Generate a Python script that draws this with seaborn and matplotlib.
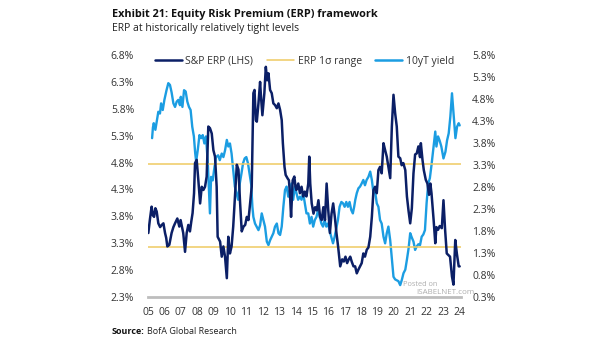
import matplotlib
matplotlib.use("Agg")
import matplotlib.pyplot as plt
import seaborn as sns
import pandas as pd
from matplotlib.ticker import FuncFormatter, FixedLocator
from matplotlib.lines import Line2D

# S&P 500 equity risk premium (left axis, %)
erp_year = [2005.02, 2005.12, 2005.22, 2005.30, 2005.37, 2005.45, 2005.53, 2005.63, 2005.74, 2005.84,
            2005.94, 2006.04, 2006.11, 2006.18, 2006.30, 2006.44, 2006.55, 2006.65, 2006.79, 2006.91,
            2006.99, 2007.08, 2007.15, 2007.26, 2007.36, 2007.46, 2007.56, 2007.64, 2007.72, 2007.81,
            2007.87, 2007.97, 2008.07, 2008.18, 2008.28, 2008.38, 2008.48, 2008.58, 2008.68, 2008.78,
            2008.89, 2008.99, 2009.09, 2009.19, 2009.25, 2009.40, 2009.50, 2009.60, 2009.70, 2009.81,
            2009.90, 2010.00, 2010.10, 2010.20, 2010.32, 2010.42, 2010.52, 2010.62, 2010.72, 2010.83,
            2010.93, 2011.03, 2011.13, 2011.23, 2011.33, 2011.43, 2011.50, 2011.58, 2011.64, 2011.74,
            2011.84, 2011.90, 2011.98, 2012.10, 2012.19, 2012.27, 2012.35, 2012.45, 2012.55, 2012.65,
            2012.75, 2012.86, 2012.96, 2013.06, 2013.16, 2013.23, 2013.33, 2013.40, 2013.53, 2013.60,
            2013.66, 2013.73, 2013.83, 2013.93, 2014.00, 2014.05, 2014.17, 2014.27, 2014.37, 2014.47,
            2014.57, 2014.67, 2014.78, 2014.84, 2014.90, 2014.99, 2015.10, 2015.20, 2015.30, 2015.40,
            2015.50, 2015.60, 2015.70, 2015.80, 2015.90, 2016.00, 2016.10, 2016.20, 2016.30, 2016.40,
            2016.50, 2016.60, 2016.73, 2016.85, 2016.95, 2017.05, 2017.15, 2017.25, 2017.34, 2017.44,
            2017.54, 2017.64, 2017.74, 2017.84, 2017.94, 2018.04, 2018.14, 2018.24, 2018.35, 2018.45,
            2018.56, 2018.66, 2018.76, 2018.86, 2018.96, 2019.06, 2019.16, 2019.26, 2019.37, 2019.47,
            2019.57, 2019.67, 2019.78, 2019.88, 2019.98, 2020.08, 2020.18, 2020.28, 2020.39, 2020.48,
            2020.58, 2020.70, 2020.80, 2020.90, 2021.00, 2021.10, 2021.20, 2021.30, 2021.40, 2021.50,
            2021.60, 2021.65, 2021.75, 2021.83, 2021.95, 2022.05, 2022.15, 2022.23, 2022.30, 2022.43,
            2022.53, 2022.60, 2022.70, 2022.80, 2022.93, 2023.03, 2023.13, 2023.23, 2023.33, 2023.43,
            2023.55, 2023.64, 2023.75, 2023.85, 2023.96, 2024.02]
erp_value = [3.49, 3.75, 3.98, 3.82, 3.79, 3.95, 3.89, 3.67, 3.60, 3.64,
             3.67, 3.49, 3.40, 3.24, 3.27, 3.49, 3.60, 3.67, 3.76, 3.61,
             3.73, 3.60, 3.49, 3.14, 3.49, 3.64, 3.52, 3.70, 3.86, 4.23,
             4.79, 4.85, 4.48, 4.04, 4.35, 4.29, 4.35, 4.54, 5.47, 5.44,
             5.34, 5.03, 4.91, 4.35, 3.42, 3.33, 3.05, 3.24, 3.05, 2.65,
             3.42, 3.11, 3.24, 3.61, 4.23, 4.76, 4.67, 4.05, 3.52, 3.61,
             3.64, 3.79, 3.73, 4.04, 4.35, 6.09, 6.15, 5.59, 5.56, 5.90,
             6.30, 6.00, 5.68, 6.09, 6.58, 6.33, 6.46, 6.15, 6.09, 5.90,
             5.87, 5.81, 5.90, 5.78, 5.59, 5.16, 4.72, 4.57, 4.50, 4.47,
             4.23, 3.79, 4.47, 4.54, 4.35, 4.29, 4.41, 4.23, 4.35, 4.17,
             4.26, 4.17, 4.41, 4.91, 4.41, 4.04, 3.85, 3.97, 3.91, 4.10,
             3.79, 3.73, 3.97, 3.73, 4.41, 3.91, 3.49, 3.85, 4.04, 3.79,
             3.49, 3.24, 2.87, 3.00, 2.96, 3.05, 2.93, 3.00, 3.05, 2.95,
             2.87, 2.87, 2.74, 2.81, 2.87, 2.93, 3.11, 3.05, 3.18, 3.22,
             3.42, 3.79, 4.29, 4.35, 4.23, 4.66, 4.72, 4.60, 5.16, 5.03,
             4.91, 4.72, 4.51, 5.47, 6.06, 5.72, 5.47, 4.91, 4.88, 4.75,
             4.79, 4.66, 4.17, 3.90, 3.67, 3.95, 4.60, 4.95, 4.97, 5.10,
             4.90, 5.16, 4.85, 4.66, 4.48, 4.41, 4.20, 4.41, 4.23, 3.73,
             3.30, 3.60, 3.55, 3.62, 3.58, 4.10, 3.55, 3.11, 3.08, 3.05,
             2.68, 2.53, 3.36, 3.10, 2.87, 2.87]

# US 10-year Treasury yield (right axis, %)
ust_year = [2005.25, 2005.30, 2005.35, 2005.45, 2005.55, 2005.63, 2005.73, 2005.80, 2005.90, 2006.00,
            2006.13, 2006.24, 2006.34, 2006.44, 2006.55, 2006.65, 2006.75, 2006.85, 2006.95, 2007.00,
            2007.10, 2007.20, 2007.30, 2007.40, 2007.50, 2007.60, 2007.70, 2007.80, 2007.88, 2007.94,
            2008.04, 2008.14, 2008.24, 2008.34, 2008.44, 2008.54, 2008.65, 2008.78, 2008.85, 2008.95,
            2009.03, 2009.15, 2009.28, 2009.38, 2009.50, 2009.60, 2009.70, 2009.81, 2009.90, 2010.00,
            2010.10, 2010.20, 2010.30, 2010.40, 2010.50, 2010.60, 2010.70, 2010.80, 2010.90, 2011.00,
            2011.10, 2011.20, 2011.30, 2011.37, 2011.43, 2011.53, 2011.63, 2011.74, 2011.84, 2011.94,
            2012.04, 2012.14, 2012.25, 2012.35, 2012.45, 2012.55, 2012.65, 2012.75, 2012.86, 2012.96,
            2013.06, 2013.16, 2013.26, 2013.36, 2013.46, 2013.56, 2013.66, 2013.76, 2013.86, 2013.96,
            2014.06, 2014.16, 2014.27, 2014.37, 2014.47, 2014.57, 2014.67, 2014.78, 2014.88, 2014.98,
            2015.08, 2015.18, 2015.28, 2015.38, 2015.48, 2015.58, 2015.68, 2015.78, 2015.88, 2015.98,
            2016.08, 2016.18, 2016.29, 2016.39, 2016.49, 2016.59, 2016.69, 2016.80, 2016.90, 2017.00,
            2017.10, 2017.20, 2017.30, 2017.40, 2017.50, 2017.58, 2017.65, 2017.74, 2017.84, 2017.94,
            2018.04, 2018.14, 2018.24, 2018.34, 2018.45, 2018.56, 2018.66, 2018.76, 2018.86, 2018.96,
            2019.06, 2019.16, 2019.26, 2019.37, 2019.47, 2019.57, 2019.67, 2019.78, 2019.87, 2019.98,
            2020.08, 2020.18, 2020.28, 2020.39, 2020.49, 2020.59, 2020.70, 2020.80, 2020.90, 2021.00,
            2021.10, 2021.20, 2021.30, 2021.40, 2021.50, 2021.60, 2021.70, 2021.80, 2021.90, 2022.00,
            2022.10, 2022.20, 2022.30, 2022.43, 2022.53, 2022.60, 2022.70, 2022.80, 2022.90, 2023.03,
            2023.15, 2023.25, 2023.35, 2023.45, 2023.55, 2023.66, 2023.76, 2023.86, 2023.96, 2024.02]
ust_value = [3.91, 4.15, 4.25, 4.10, 4.32, 4.51, 4.47, 4.70, 4.55, 4.78,
             5.00, 5.16, 5.12, 4.95, 4.70, 4.62, 4.74, 4.78, 4.66, 4.85,
             4.62, 5.00, 4.97, 4.74, 4.62, 4.55, 4.17, 3.95, 3.57, 3.38,
             3.65, 3.98, 3.91, 3.98, 3.79, 3.95, 3.34, 2.20, 3.03, 2.95,
             3.18, 3.48, 3.52, 3.41, 3.56, 3.48, 3.63, 3.87, 3.72, 3.79,
             3.56, 3.18, 2.81, 2.66, 2.51, 2.88, 3.10, 3.34, 3.45, 3.48,
             3.34, 3.10, 2.85, 2.35, 2.12, 1.97, 1.90, 1.82, 1.93, 2.20,
             2.05, 1.90, 1.56, 1.48, 1.59, 1.67, 1.75, 1.90, 1.97, 1.75,
             1.71, 1.90, 2.35, 2.73, 2.81, 2.58, 2.73, 2.88, 2.51, 2.81,
             2.66, 2.51, 2.58, 2.51, 2.66, 2.43, 2.20, 2.20, 1.97, 2.12,
             1.90, 2.05, 2.12, 2.28, 2.12, 1.97, 1.90, 2.05, 1.90, 1.97,
             1.82, 1.67, 1.52, 1.67, 1.86, 2.05, 2.35, 2.46, 2.43, 2.35,
             2.46, 2.35, 2.46, 2.28, 2.20, 2.35, 2.51, 2.66, 2.77, 2.81,
             2.88, 2.96, 2.84, 2.96, 3.03, 3.15, 2.96, 2.66, 2.69, 2.43,
             2.35, 2.05, 1.97, 1.67, 1.52, 1.75, 1.90, 1.59, 1.22, 0.76,
             0.70, 0.68, 0.66, 0.57, 0.69, 0.84, 0.92, 1.15, 1.40, 1.75,
             1.65, 1.56, 1.37, 1.45, 1.50, 1.48, 1.67, 1.72, 1.82, 2.43,
             2.88, 3.00, 3.30, 3.72, 4.06, 3.72, 3.95, 3.85, 3.72, 3.45,
             3.60, 3.86, 4.02, 4.40, 4.93, 4.40, 3.91, 4.17, 4.25, 4.20]

# ERP one-standard-deviation band (left axis, %)
erp_band = [3.23, 4.78]

left_ticks = [2.3, 2.8, 3.3, 3.8, 4.3, 4.8, 5.3, 5.8, 6.3, 6.8]
right_ticks = [0.3, 0.8, 1.3, 1.8, 2.3, 2.8, 3.3, 3.8, 4.3, 4.8, 5.3, 5.8]
year_ticks = list(range(2005, 2025))
year_labels = [f"{y % 100:02d}" for y in year_ticks]

NAVY = "#0b1f66"
SKY = "#1b9de2"
GOLD = "#efca62"
TXT = "#333333"

sns.set_theme(style="white")
plt.rcParams["font.family"] = ["Open Sans", "DejaVu Sans"]

erp_df = pd.DataFrame({"year": erp_year, "value": erp_value})
ust_df = pd.DataFrame({"year": ust_year, "value": ust_value})

fig = plt.figure(figsize=(6.05, 3.41), dpi=100)
W, H = 605, 341
ax = fig.add_axes([148 / W, 1 - 297 / H, (461 - 148) / W, (297 - 55) / H])
ax2 = ax.twinx()

# 1-sigma band lines
for lvl in erp_band:
    ax.axhline(lvl, color=GOLD, lw=1.1, zorder=1)

sns.lineplot(data=ust_df, x="year", y="value", ax=ax2, color=SKY, lw=1.7, zorder=2)
sns.lineplot(data=erp_df, x="year", y="value", ax=ax, color=NAVY, lw=1.8, zorder=3)

# draw ERP above the yield line
ax.set_zorder(ax2.get_zorder() + 1)
ax.patch.set_visible(False)

ax.set_xlim(2005, 2024.1)
ax.set_ylim(2.3, 6.8)
ax2.set_ylim(0.3, 5.8)

ax.xaxis.set_major_locator(FixedLocator(year_ticks))
ax.set_xticklabels(year_labels)
ax.yaxis.set_major_locator(FixedLocator(left_ticks))
ax2.yaxis.set_major_locator(FixedLocator(right_ticks))
pct = FuncFormatter(lambda v, _: f"{v:.1f}%")
ax.yaxis.set_major_formatter(pct)
ax2.yaxis.set_major_formatter(pct)

ax.set_xlabel("")
ax.set_ylabel("")
ax2.set_ylabel("")

for a in (ax, ax2):
    for s in a.spines.values():
        s.set_visible(False)
    a.grid(False)
ax.spines["bottom"].set_visible(True)
ax.spines["bottom"].set_color("#bdbdbd")
ax.spines["bottom"].set_linewidth(2.0)

ax.tick_params(axis="y", length=0, pad=10, labelsize=7.5, labelcolor=TXT)
ax2.tick_params(axis="y", length=0, pad=8, labelsize=7.5, labelcolor=TXT)
ax.tick_params(axis="x", length=0, pad=7, labelsize=7.5, labelcolor=TXT)

# legend
handles = [Line2D([], [], color=NAVY, lw=1.8),
           Line2D([], [], color=GOLD, lw=1.1),
           Line2D([], [], color=SKY, lw=1.8)]
labels = ["S&P ERP (LHS)", "ERP 1\u03c3 range", "10yT yield"]
ax.legend(handles, labels, loc="upper center", bbox_to_anchor=(0.5, 1.035),
          ncol=3, frameon=False, fontsize=7.5, handlelength=2.6,
          columnspacing=1.3, handletextpad=0.35, labelcolor=TXT)

fig.text(112 / W, 1 - 14 / H, "Exhibit 21: Equity Risk Premium (ERP) framework",
         fontsize=7.8, fontweight="bold", color="#111111", va="center", ha="left")
fig.text(112 / W, 1 - 28 / H, "ERP at historically relatively tight levels",
         fontsize=7.5, color="#222222", va="center", ha="left")

src = fig.text(112 / W, 1 - 331 / H, "Source:", fontsize=6.5, fontweight="bold",
               color="#111111", va="center", ha="left")
renderer = fig.canvas.get_renderer()
bb = src.get_window_extent(renderer=renderer)
fig.text((bb.x1 + 2) / W, 1 - 331 / H, "BofA Global Research", fontsize=6.5,
         color="#222222", va="center", ha="left")

# watermark
fig.text(403 / W, 1 - 284 / H, "Posted on", fontsize=5.3, color="#9a9a9a",
         va="center", ha="left", alpha=0.8)
fig.text(416 / W, 1 - 293 / H, "ISABELNET.com", fontsize=5.8, color="#9a9a9a",
         va="center", ha="left", alpha=0.8)

fig.savefig("out.png", dpi=100)
